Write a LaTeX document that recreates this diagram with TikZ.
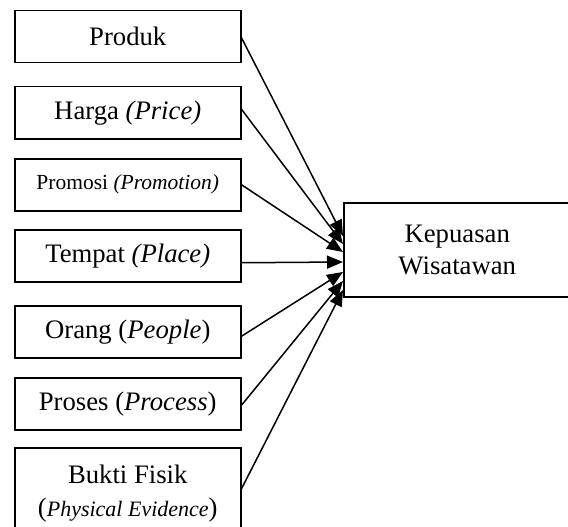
\documentclass[tikz,border=0pt]{standalone}
\usepackage{fontspec}
\setmainfont{Liberation Serif}
\usetikzlibrary{arrows.meta}
\begin{document}
\begin{tikzpicture}[x=1pt,y=-1pt,
  box/.style={draw,line width=1.5pt,inner sep=0pt,anchor=north west,
    minimum width=226pt,minimum height=52pt,align=center,
    font=\fontsize{26.7}{32.5}\selectfont},
  conn/.style={line width=1.5pt,-{Triangle[length=16pt,width=13pt]}}]
\useasboundingbox (0,0) rectangle (568,527);
\clip (0,0) rectangle (568,527);
\node[box] (produk) at (14,10) {Produk};
\node[box] (harga) at (14,86) {Harga \textit{(Price)}};
\node[box,font=\fontsize{21.5}{26}\selectfont] (promosi) at (14,158) {Promosi \textit{(Promotion)}};
\node[box] (tempat) at (14,229) {Tempat \textit{(Place)}};
\node[box] (orang) at (14,305) {Orang (\textit{People})};
\node[box] (proses) at (14,377) {Proses (\textit{Process})};
\node[box,minimum height=92pt] (bukti) at (14,447) {Bukti Fisik\\(\textit{\fontsize{22}{26}\selectfont Physical Evidence})};
\node[box,minimum width=227pt,minimum height=94pt] (kep) at (343,202) {Kepuasan\\Wisatawan};
\coordinate (e1) at (343,236);
\coordinate (e2) at (343,244);
\coordinate (e3) at (343,252);
\coordinate (e4) at (343,262);
\coordinate (e5) at (343,272);
\coordinate (e6) at (343,281);
\coordinate (e7) at (343,290);
\draw[conn] ([yshift=-1pt]produk.east) -- (e1);
\draw[conn] ([yshift=3.5pt]harga.east) -- (e2);
\draw[conn] (promosi.east) -- (e3);
\draw[conn] ([yshift=-7pt]tempat.east) -- (e4);
\draw[conn] ([yshift=-4.5pt]orang.east) -- (e5);
\draw[conn] ([yshift=-1.5pt]proses.east) -- (e6);
\draw[conn] ([yshift=5pt]bukti.east) -- (e7);
\end{tikzpicture}
\end{document}
